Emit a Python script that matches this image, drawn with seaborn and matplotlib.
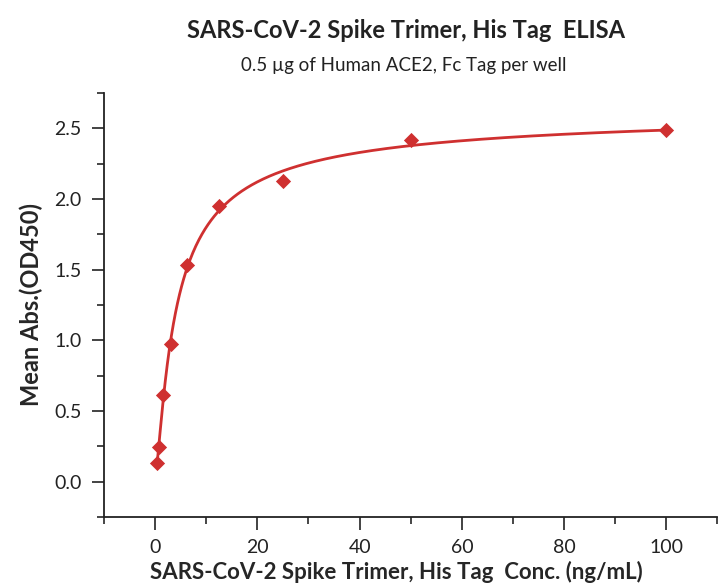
import numpy as np
import pandas as pd
import matplotlib.pyplot as plt
import seaborn as sns

conc = [0.39, 0.78, 1.56, 3.125, 6.25, 12.5, 25, 50, 100]
od450 = [0.135, 0.246, 0.61, 0.975, 1.53, 1.95, 2.13, 2.415, 2.486]

data = pd.DataFrame({"conc": conc, "od": od450})

# 5PL fit, brute-force grid on ec50 / hill / asymmetry, linear LS for the rest
x = np.array(conc)
y = np.array(od450)
cs = np.logspace(-1, 2.5, 90)[:, None, None, None]
bs = np.linspace(0.5, 4, 71)[None, :, None, None]
gs = np.logspace(-2, 0.7, 70)[None, None, :, None]
f = 1 - 1 / (1 + (x / cs) ** bs) ** gs
fm = f.mean(-1, keepdims=True)
k = ((f - fm) * (y - y.mean())).sum(-1, keepdims=True) / ((f - fm) ** 2).sum(-1, keepdims=True)
d0 = y.mean() - k * fm
err = ((d0 + k * f - y) ** 2).sum(-1)
i, j, l = np.unravel_index(np.argmin(err), err.shape)
c, b, g = cs[i, 0, 0, 0], bs[0, j, 0, 0], gs[0, 0, l, 0]
kk, dd = k[i, j, l, 0], d0[i, j, l, 0]
xf = np.linspace(x.min(), x.max(), 500)
fit = pd.DataFrame({"conc": xf, "od": dd + kk * (1 - 1 / (1 + (xf / c) ** b) ** g)})

sns.set_style("ticks")
plt.rcParams["font.family"] = ["Lato", "DejaVu Sans"]
red = "#cf3030"

fig = plt.figure(figsize=(7.18, 5.87), dpi=100)
ax = fig.add_axes([0.1448, 0.1193, 0.8545, 0.7223])

sns.lineplot(data=fit, x="conc", y="od", color=red, linewidth=2, ax=ax)
sns.scatterplot(data=data, x="conc", y="od", marker="D", color=red, s=60,
                edgecolor=red, linewidth=0, ax=ax, zorder=3)

ax.set_xlim(-10, 110)
ax.set_ylim(-0.25, 2.75)
ax.set_xticks([0, 20, 40, 60, 80, 100])
ax.set_xticks(np.arange(-10, 111, 10), minor=True)
ax.set_yticks([0.0, 0.5, 1.0, 1.5, 2.0, 2.5])
ax.set_yticklabels(["0.0", "0.5", "1.0", "1.5", "2.0", "2.5"])
ax.set_yticks(np.arange(-0.25, 2.76, 0.25), minor=True)
ax.tick_params(which="major", length=9, width=1.2, labelsize=14, pad=7, colors="#222222")
ax.tick_params(which="minor", length=5, width=1.2)
for s in ["top", "right"]:
    ax.spines[s].set_visible(False)
for s in ["left", "bottom"]:
    ax.spines[s].set_linewidth(1.3)
    ax.spines[s].set_color("#222222")

ax.set_xlabel("SARS-CoV-2 Spike Trimer, His Tag  Conc. (ng/mL)", fontsize=16,
              fontweight="bold")
ax.xaxis.set_label_coords(0.476, -0.104)
ax.set_ylabel("Mean Abs.(OD450)", fontsize=17, fontweight="bold", labelpad=8)

fig.text(0.565, 0.948, "SARS-CoV-2 Spike Trimer, His Tag  ELISA", ha="center",
         va="center", fontsize=17, fontweight="bold", color="#222222")
fig.text(0.563, 0.889, "0.5 µg of Human ACE2, Fc Tag per well", ha="center",
         va="center", fontsize=13.5, color="#222222")

fig.savefig("out.png", dpi=100)
